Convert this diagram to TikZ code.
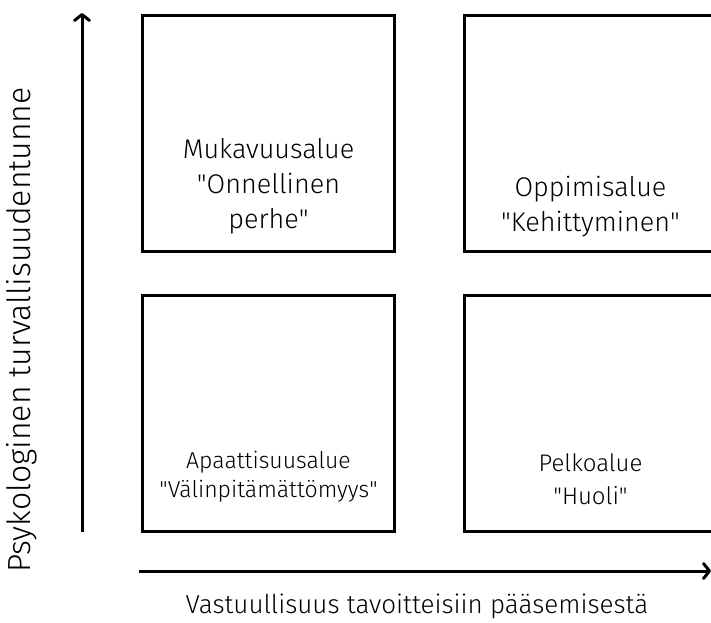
\documentclass[tikz,border=0pt]{standalone}
\usepackage{fontspec}
\setmainfont{Fira Sans}[UprightFont=* Light]
\usepackage{tikz}
\usetikzlibrary{arrows.meta, positioning}

\begin{document}
\begin{tikzpicture}[
        x=1pt, y=-1pt,
        zone/.style={draw=black, line width=3pt, minimum width=252pt, minimum height=236pt, inner sep=0pt},
        zonetext/.style={align=center, inner sep=0pt, font=\fontsize{27}{35}\selectfont},
        axis/.style={-{Straight Barb[length=6pt, width=15pt, round]}, line width=3pt},
        axislabel/.style={font=\fontsize{26}{30}\selectfont}
    ]
        \useasboundingbox (0,0) rectangle (711,622);

        % the four zones
        \node[zone] (comfort) at (268.5,133) {};
        \node[zone, right=67pt of comfort] (learning) {};
        \node[zone, below=41pt of comfort] (apathy) {};
        \node[zone, below=41pt of learning] (anxiety) {};

        \node[zonetext, above=18pt of comfort.south] (comforttext) {Mukavuusalue\\\textquotedbl Onnellinen\\perhe\textquotedbl};
        \node[zonetext, above=15pt of learning.south] (learningtext) {Oppimisalue\\\textquotedbl Kehittyminen\textquotedbl};
        \node[zonetext, above=30pt of apathy.south, font=\fontsize{23}{29}\selectfont] (apathytext) {Apaattisuusalue\\\textquotedbl Välinpitämättömyys\textquotedbl};
        \node[zonetext, above=28pt of anxiety.south, font=\fontsize{24}{33}\selectfont] (anxietytext) {Pelkoalue\\\textquotedbl Huoli\textquotedbl};

        % axes
        \coordinate (yfoot) at (82,532);
        \coordinate (ytip) at (82,13);
        \coordinate (xfoot) at (139,571);
        \coordinate (xtip) at (711,571);
        \draw[axis] (yfoot) -- (ytip);
        \draw[axis] (xfoot) -- (xtip);

        \node[axislabel] (xlabel) at (417,606) {Vastuullisuus tavoitteisiin pääsemisestä};
        \node[axislabel, rotate=90, font=\fontsize{32}{36}\selectfont] (ylabel) at (22,330) {Psykologinen turvallisuudentunne};
    \end{tikzpicture}
\end{document}
